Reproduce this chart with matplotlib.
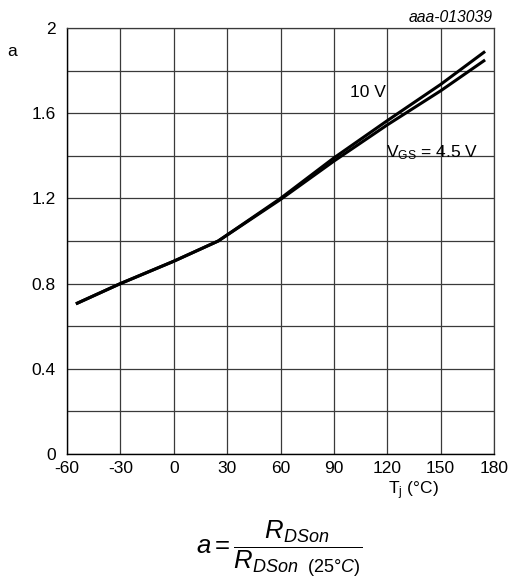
import matplotlib
matplotlib.use("Agg")
import matplotlib.pyplot as plt
import numpy as np

plt.rcParams['font.family'] = ['Liberation Sans', 'DejaVu Sans']
plt.rcParams['mathtext.fontset'] = 'custom'
plt.rcParams['mathtext.rm'] = 'Liberation Sans'
plt.rcParams['mathtext.it'] = 'Liberation Sans:italic'
plt.rcParams['mathtext.bf'] = 'Liberation Sans:bold'

# Data
tj_10v = [-55, -30, 0, 25, 60, 90, 120, 150, 175]
a_10v = [0.705, 0.80, 0.905, 1.00, 1.20, 1.39, 1.565, 1.735, 1.89]
tj_45v = [-55, -30, 0, 25, 60, 90, 120, 150, 175]
a_45v = [0.705, 0.80, 0.905, 1.00, 1.195, 1.375, 1.545, 1.705, 1.85]

x_ticks = [-60, -30, 0, 30, 60, 90, 120, 150, 180]
x_ticklabels = ['-60', '-30', '0', '30', '60', '90', '120', '150', '180']
y_ticks = [0, 0.4, 0.8, 1.2, 1.6, 2.0]
y_ticklabels = ['0', '0.4', '0.8', '1.2', '1.6', '2']

fig = plt.figure(figsize=(5.10, 5.83), dpi=100)
ax = fig.add_axes([67/510, 1-454/583, (494-67)/510, (454-28)/583])

grid_c = '#3a3a3a'
ax.set_xlim(-60, 180)
ax.set_ylim(0, 2)
ax.set_xticks(x_ticks)
ax.set_xticklabels(x_ticklabels)
ax.set_yticks(y_ticks)
ax.set_yticklabels(y_ticklabels)
ax.set_yticks(np.arange(0.2, 2.0, 0.4), minor=True)
ax.grid(True, which='both', color=grid_c, linewidth=0.9)
ax.set_axisbelow(True)
ax.tick_params(which='both', length=0, labelsize=12.5, colors='black')
ax.tick_params(axis='x', pad=5)
ax.tick_params(axis='y', pad=8)
for s in ['top', 'right']:
    ax.spines[s].set_color(grid_c)
    ax.spines[s].set_linewidth(0.9)
for s in ['left', 'bottom']:
    ax.spines[s].set_color('black')
    ax.spines[s].set_linewidth(1.0)

ax.plot(tj_10v, a_10v, color='black', linewidth=2.2, solid_capstyle='butt')
ax.plot(tj_45v, a_45v, color='black', linewidth=2.2, solid_capstyle='butt')

ax.text(99, 1.676, '10 V', fontsize=12.5, va='baseline', ha='left')
ax.text(119.3, 1.394, r'V$_{\mathrm{GS}}$ = 4.5 V', fontsize=12.5, va='baseline', ha='left')

fig.text(493/510, 1-17/583, 'aaa-013039', fontsize=11.3, style='italic', ha='right', va='center')
fig.text(12/510, 1-52/583, 'a', fontsize=12.5, ha='center', va='center')
fig.text(413/510, 1-491/583, r'T$_{\mathrm{j}}$ (°C)', fontsize=12.5, ha='center', va='center')
fig.text(279/510, 1-549/583,
         r'$a=\dfrac{R_{DSon}}{R_{DSon\ \ \mathrm{(25°}C\mathrm{)}}}$',
         fontsize=18.5, ha='center', va='center')

fig.savefig('out.png', dpi=100)
